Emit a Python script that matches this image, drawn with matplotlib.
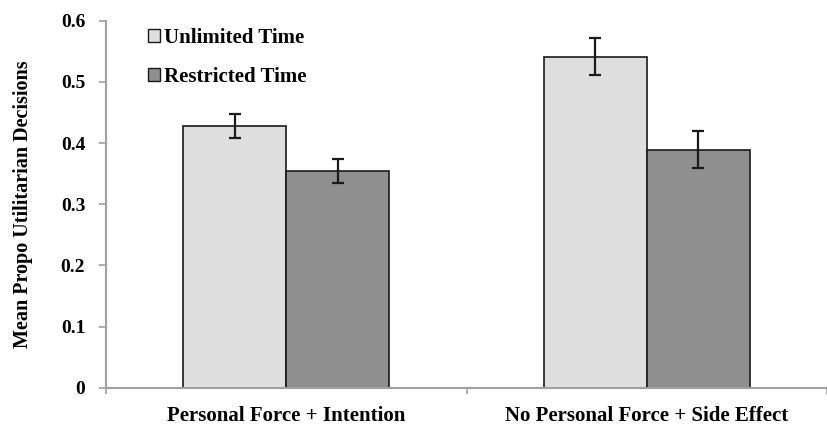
import matplotlib
matplotlib.use("Agg")
import matplotlib.pyplot as plt
import numpy as np
from matplotlib.patches import Patch

categories = ["Personal Force + Intention", "No Personal Force + Side Effect"]
series_names = ["Unlimited Time", "Restricted Time"]
unlimited = [0.428, 0.541]
restricted = [0.354, 0.389]
unlimited_err = [0.020, 0.030]
restricted_err = [0.020, 0.030]
yticks = [0, 0.1, 0.2, 0.3, 0.4, 0.5, 0.6]
ytick_labels = ["0", "0.1", "0.2", "0.3", "0.4", "0.5", "0.6"]

plt.rcParams['font.family'] = ['Liberation Serif', 'DejaVu Serif']
plt.rcParams['font.weight'] = 'bold'

fig = plt.figure(figsize=(8.27, 4.25), dpi=100)
ax = fig.add_axes([106/827, 1 - 387.7/425, 1 - 106/827, (387.7 - 20.7)/425])

x = np.arange(len(categories))
w = 0.286
ax.bar(x - w/2, unlimited, w, color="#dedede", edgecolor="#1a1a1a", linewidth=1.2,
       yerr=unlimited_err, capsize=4.5, error_kw=dict(ecolor="#1a1a1a", elinewidth=1.6, capthick=1.6))
ax.bar(x + w/2, restricted, w, color="#8f8f8f", edgecolor="#1a1a1a", linewidth=1.2,
       yerr=restricted_err, capsize=4.5, error_kw=dict(ecolor="#1a1a1a", elinewidth=1.6, capthick=1.6))

ax.set_xlim(-0.5, (827 - 106)/367 - 0.5)
ax.set_ylim(0, 0.6)
ax.set_yticks(yticks)
ax.set_yticklabels(ytick_labels, fontsize=14, fontweight='bold')

ax.set_xticks([-0.5, 0.5, 1.5])
ax.set_xticklabels([])
ax.set_xticks(x, minor=True)
ax.set_xticklabels(categories, minor=True, fontsize=15, fontweight='bold')
ax.tick_params(axis='x', which='minor', length=0, pad=13)
ax.tick_params(axis='x', which='major', length=4, color="#a0a0a0", width=1.2)
ax.tick_params(axis='y', length=5, color="#a0a0a0", width=1.2, pad=10)

for s in ['top', 'right']:
    ax.spines[s].set_visible(False)
for s in ['left', 'bottom']:
    ax.spines[s].set_color("#a0a0a0")
    ax.spines[s].set_linewidth(1.5)

ax.set_ylabel("Mean Propo Utilitarian Decisions", fontsize=14.5, fontweight='bold')
ax.yaxis.set_label_coords((33 - 106)/721, (387.7 - 204)/367)

handles = [Patch(facecolor="#dedede", edgecolor="#1a1a1a", linewidth=1.0),
           Patch(facecolor="#8f8f8f", edgecolor="#1a1a1a", linewidth=1.0)]
leg = ax.legend(handles, series_names, loc='upper left', bbox_to_anchor=((148 - 106)/721, 0.981),
                frameon=False, handlelength=0.58, handleheight=0.58, handletextpad=0.2,
                borderpad=0, borderaxespad=0,
                labelspacing=0.92, prop=dict(size=15, weight='bold'))

fig.savefig("out.png", dpi=100)
